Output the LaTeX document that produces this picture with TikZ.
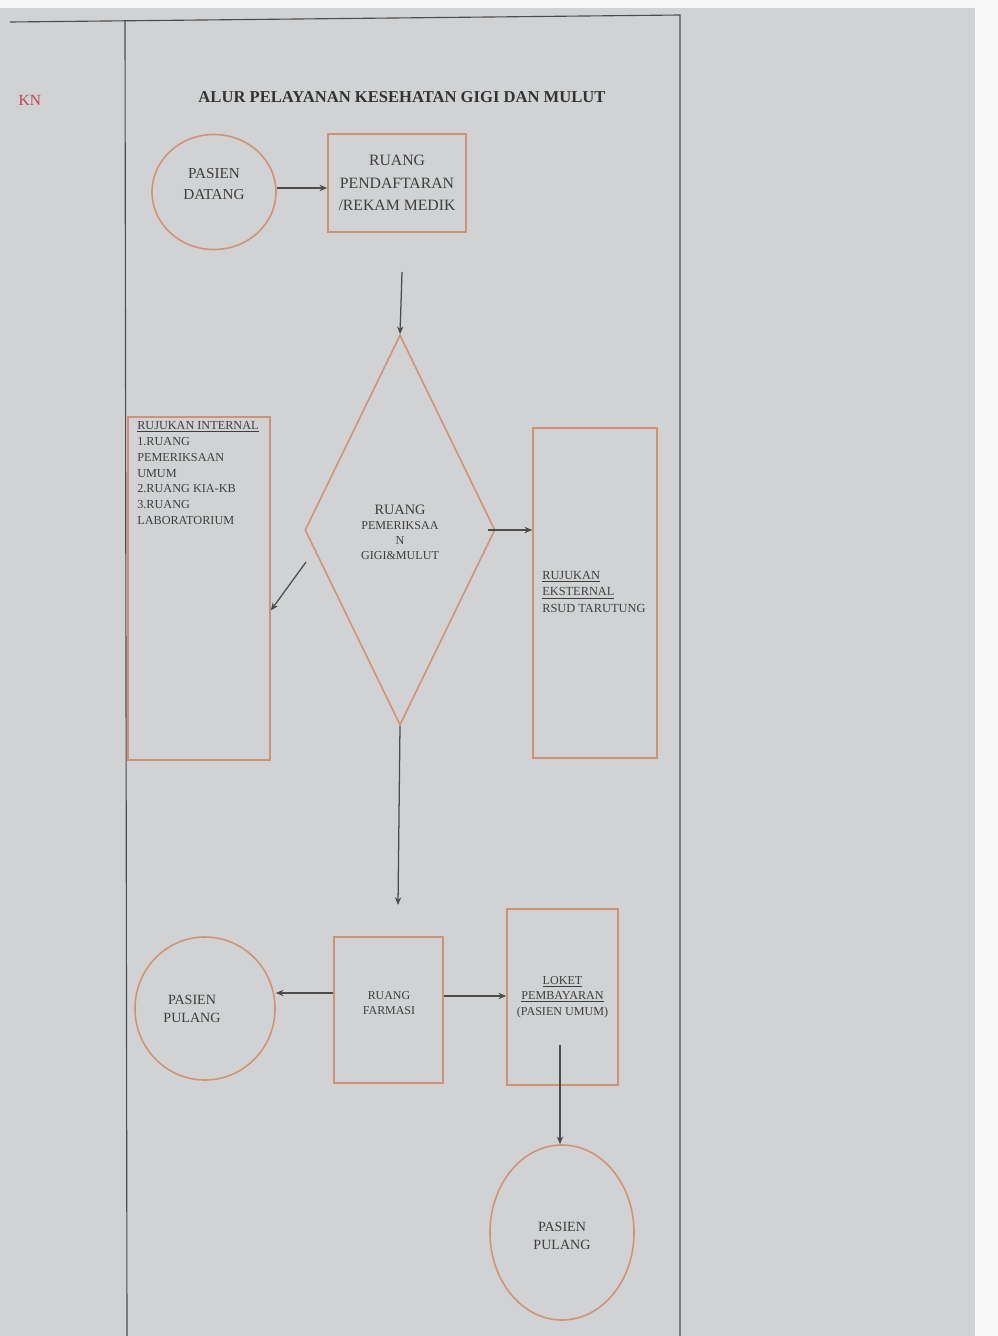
\documentclass[tikz,border=0pt]{standalone}
\usepackage{fontspec}
\setmainfont{Liberation Serif}
\usepackage{tikz}
\usetikzlibrary{shapes.geometric, calc, positioning}
\usetikzlibrary{arrows.meta}
\tikzset{>={Stealth[length=5.5pt,width=4.5pt]}}
\usepackage{xcolor}
\definecolor{kertas}{RGB}{208,210,211}
\definecolor{garis}{RGB}{208,146,116}
\definecolor{tinta}{RGB}{62,62,62}
\definecolor{merah}{RGB}{196,64,86}

\begin{document}
\begin{tikzpicture}[x=0.025cm, y=-0.025cm,
  kotak/.style={draw=garis, line width=1.1pt, rectangle, inner sep=0pt},
  bulat/.style={draw=garis, line width=1.1pt, ellipse, inner sep=0pt},
  teks/.style={text=tinta, align=center},
  panah/.style={->, draw=black!70, line width=0.9pt}]
  \useasboundingbox (0,0) rectangle (998,1336);
  \fill[kertas] (0,0) rectangle (998,1336);
  \fill[white!85!kertas] (975,0) rectangle (998,1336);
  \fill[white!80!kertas] (0,0) rectangle (975,8);
  % bingkai halaman
  \draw[black!70, line width=0.8pt] (10,22) -- (680,15) -- (680,1336);
  \draw[black!70, line width=0.8pt] (125,20) -- (127,1336);
  \node[text=merah, anchor=east, font=\fontsize{11}{12}\selectfont] (kn) at (46,100) {KN};
  \node[text=black!80, font=\bfseries\fontsize{11.8}{13}\selectfont] (judul) at (402,97)
    {ALUR PELAYANAN KESEHATAN GIGI DAN MULUT};
  % baris atas
  \node[bulat, minimum width=3.1cm, minimum height=2.875cm] (datang) at (214,192) {};
  \node[teks, font=\fontsize{10.8}{15}\selectfont] (teksDatang) at (214,184) {PASIEN\\DATANG};
  \node[kotak, teks, minimum width=3.45cm, minimum height=2.45cm,
    font=\fontsize{11.2}{16}\selectfont] (daftar) at (397,183)
    {RUANG\\PENDAFTARAN\\/REKAM MEDIK};
  \draw[panah] ([yshift=0.1cm]datang.east) -- ([yshift=0.1cm]datang.east -| daftar.west);
  % pemeriksaan
  \node[draw=garis, line width=1.1pt, diamond, inner sep=0pt, minimum width=4.75cm,
    minimum height=9.75cm] (periksa) at (400,530) {};
  \node[teks, font=\fontsize{8.6}{10.6}\selectfont] (teksPeriksa) at (400,532)
    {{\fontsize{10.2}{12}\selectfont RUANG}\\PEMERIKSAA\\N\\GIGI\&MULUT};
  \coordinate (dariDaftar) at (402,272);
  \draw[panah] (dariDaftar) -- (periksa.north);
  % rujukan internal
  \node[kotak, minimum width=3.55cm, minimum height=8.575cm] (internal) at (199,588.5) {};
  \node[teks, align=left, anchor=north west, inner sep=0pt,
    font=\fontsize{8.7}{11.3}\selectfont] (teksInternal) at (137,421)
    {\underline{RUJUKAN INTERNAL}\\1.RUANG\\PEMERIKSAAN\\UMUM\\2.RUANG KIA-KB\\3.RUANG\\LABORATORIUM};
  \coordinate (keInternal) at (306,562);
  \draw[panah] (keInternal) -- ($(internal.east)+(0,22)$);
  % rujukan eksternal
  \node[kotak, minimum width=3.1cm, minimum height=8.25cm] (eksternal) at (595,593) {};
  \node[teks, align=left, anchor=north west, inner sep=0pt,
    font=\fontsize{8.8}{11.7}\selectfont] (teksEksternal) at (542,571)
    {\underline{RUJUKAN}\\\underline{EKSTERNAL}\\RSUD TARUTUNG};
  \draw[panah] ([xshift=-0.2cm]periksa.east) -- (periksa.east -| eksternal.west);
  % ke farmasi
  \coordinate (keFarmasi) at (398,905);
  \draw[panah] (periksa.south) -- (keFarmasi);
  % baris bawah
  \node[kotak, minimum width=2.725cm, minimum height=3.65cm] (farmasi) at (388.5,1010) {};
  \node[teks, font=\fontsize{8.5}{10.6}\selectfont] (teksFarmasi) at (389,1003) {RUANG\\FARMASI};
  \node[bulat, minimum width=3.5cm, minimum height=3.575cm] (pulangA) at (205,1008.5) {};
  \node[teks, font=\fontsize{10}{13}\selectfont] (teksPulangA) at (192,1009) {PASIEN\\PULANG};
  \node[kotak, teks, minimum width=2.775cm, minimum height=4.4cm,
    font=\fontsize{8.6}{11}\selectfont] (loket) at (562.5,997)
    {\underline{LOKET}\\\underline{PEMBAYARAN}\\(PASIEN UMUM)};
  \node[bulat, minimum width=3.6cm, minimum height=4.375cm] (pulangB) at (562,1232.5) {};
  \node[teks, font=\fontsize{10}{12.8}\selectfont] (teksPulangB) at (562,1236) {PASIEN\\PULANG};
  \draw[panah] ([yshift=0.425cm]farmasi.west) -- ([yshift=0.425cm]farmasi.west -| pulangA.east);
  \draw[panah] ([yshift=0.35cm]farmasi.east) -- ([yshift=0.35cm]farmasi.east -| loket.west);
  \coordinate (dariLoket) at (560,1045);
  \draw[panah] (dariLoket) -- (dariLoket |- pulangB.north);
\end{tikzpicture}
\end{document}
